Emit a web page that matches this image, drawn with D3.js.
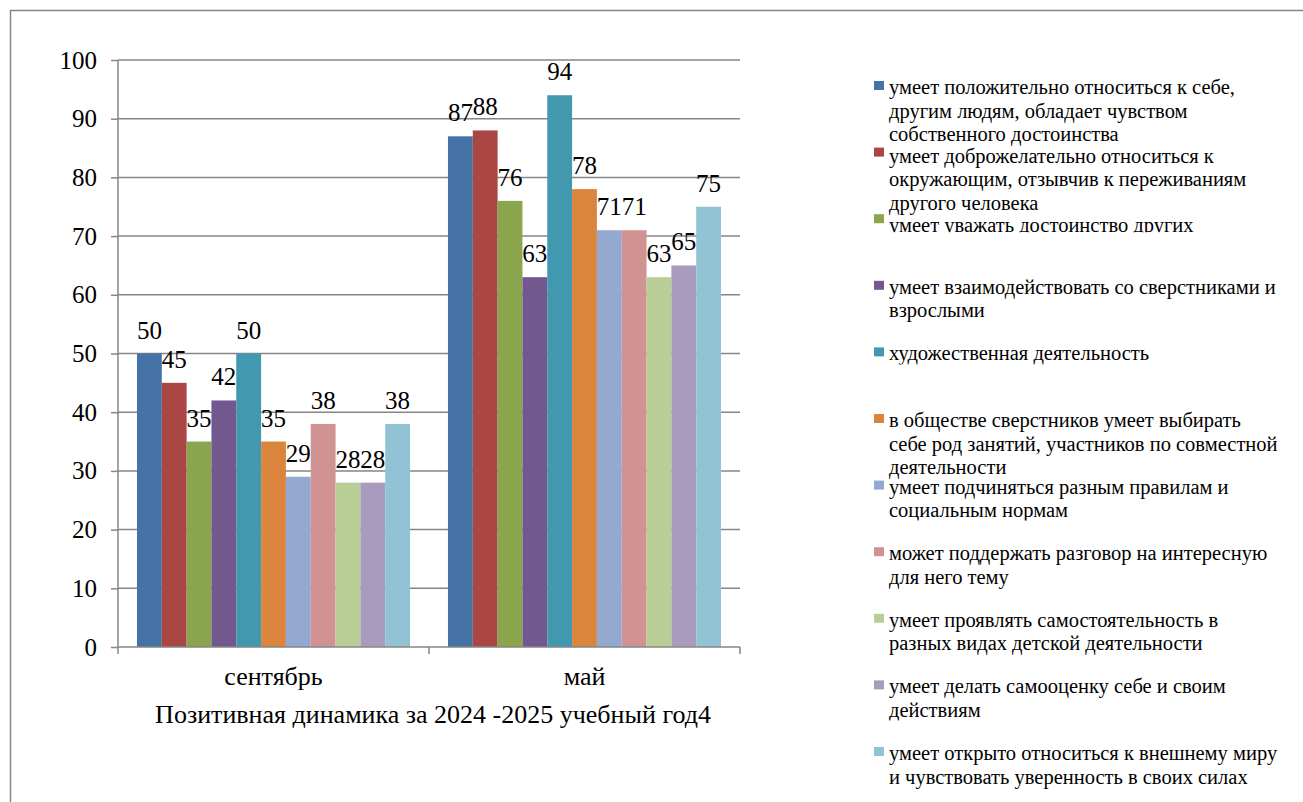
<!DOCTYPE html>
<html>
<head>
<meta charset="utf-8">
<script src="https://cdn.jsdelivr.net/npm/d3@7/dist/d3.min.js"></script>
<style>
  body { margin: 0; }
  text { font-family: "Liberation Serif", "Times New Roman", serif; }
</style>
</head>
<body>
<script>
// data
var groups = ["сентябрь", "май"];
var seriesNames = [
    "умеет положительно относиться к себе,\nдругим людям, обладает чувством\nсобственного достоинства",
    "умеет доброжелательно относиться к\nокружающим, отзывчив к переживаниям\nдругого человека",
    "умеет уважать достоинство других",
    "умеет взаимодействовать со сверстниками и\nвзрослыми",
    "художественная деятельность",
    "в обществе сверстников умеет выбирать\nсебе род занятий, участников по совместной\nдеятельности",
    "умеет подчиняться разным правилам и\nсоциальным нормам",
    "может поддержать разговор на интересную\nдля него тему",
    "умеет проявлять самостоятельность в\nразных видах детской деятельности",
    "умеет делать самооценку себе и своим\nдействиям",
    "умеет открыто относиться к внешнему миру\nи чувствовать уверенность в своих силах"
];
var septemberValues = [50, 45, 35, 42, 50, 35, 29, 38, 28, 28, 38];
var mayValues = [87, 88, 76, 63, 94, 78, 71, 71, 63, 65, 75];
var yTicks = [0, 10, 20, 30, 40, 50, 60, 70, 80, 90, 100];
var chartTitle = "Позитивная динамика за 2024 -2025 учебный год4";

var colors = ["#4572A7", "#AA4643", "#89A54E", "#71588F", "#4198AF", "#DB843D",
              "#93A9CF", "#D19392", "#B9CD96", "#A99BBD", "#91C3D5"];

var width = 1303, height = 802;
var plotLeft = 118, plotRight = 740, plotTop = 60, plotBottom = 647;
var gridColor = "#868686";
var serif = "'Liberation Serif'";

var svg = d3.select("body").append("svg")
    .attr("width", width)
    .attr("height", height)
    .style("display", "block");

// every text goes through here so the font is set the same way each time
function label(sel, size) {
    return sel.attr("font-size", size)
        .style("font-family", serif)
        .attr("fill", "#000");
}

// outer frame (runs off the right and bottom edge)
svg.append("path")
    .attr("d", "M10.5," + height + "V10.5H" + width)
    .attr("fill", "none")
    .attr("stroke", gridColor)
    .attr("stroke-width", 1.5);

var y = d3.scaleLinear().domain([0, 100]).range([plotBottom, plotTop]);

var x0 = d3.scaleBand()
    .domain(groups)
    .range([plotLeft, plotRight])
    .paddingInner(0.122)
    .paddingOuter(0.061);

var x1 = d3.scaleBand()
    .domain(d3.range(seriesNames.length))
    .range([0, x0.bandwidth()]);

// gridlines
svg.append("g").selectAll("line")
    .data(yTicks.filter(function (d) { return d > 0; }))
    .enter().append("line")
    .attr("x1", plotLeft).attr("x2", plotRight)
    .attr("y1", function (d) { return y(d); })
    .attr("y2", function (d) { return y(d); })
    .attr("stroke", gridColor).attr("stroke-width", 1.5);

// bars, one group per month
var rows = [septemberValues, mayValues];
var groupSel = svg.append("g").selectAll("g")
    .data(groups)
    .enter().append("g")
    .attr("transform", function (d) { return "translate(" + x0(d) + ",0)"; });

groupSel.selectAll("rect")
    .data(function (d, gi) { return rows[gi].map(function (v, i) { return { i: i, v: v }; }); })
    .enter().append("rect")
    .attr("x", function (d) { return x1(d.i); })
    .attr("width", x1.bandwidth())
    .attr("y", function (d) { return y(d.v); })
    .attr("height", function (d) { return plotBottom - y(d.v); })
    .attr("fill", function (d) { return colors[d.i]; });

label(groupSel.selectAll("text")
    .data(function (d, gi) { return rows[gi].map(function (v, i) { return { i: i, v: v }; }); })
    .enter().append("text"), 25)
    .attr("x", function (d) { return x1(d.i) + x1.bandwidth() / 2; })
    .attr("y", function (d) { return y(d.v) - 15; })
    .attr("text-anchor", "middle")
    .text(function (d) { return d.v; });

// y axis
var yAxis = d3.axisLeft(y).tickValues(yTicks).tickSize(7).tickPadding(14);
var yg = svg.append("g")
    .attr("transform", "translate(" + plotLeft + ",0)")
    .call(yAxis)
    .attr("font-family", null);
yg.selectAll("path, line").attr("stroke", gridColor).attr("stroke-width", 1.5);
yg.select(".domain").attr("d", "M0," + plotTop + "V" + plotBottom);
label(yg.selectAll("text"), 25);

// x axis with ticks between categories
var xg = svg.append("g").attr("transform", "translate(0," + plotBottom + ")");
xg.append("line")
    .attr("x1", plotLeft).attr("x2", plotRight)
    .attr("stroke", gridColor).attr("stroke-width", 1.5);
xg.selectAll(".tick")
    .data([plotLeft, (plotLeft + plotRight) / 2, plotRight])
    .enter().append("line")
    .attr("x1", function (d) { return d; }).attr("x2", function (d) { return d; })
    .attr("y1", 0).attr("y2", 7)
    .attr("stroke", gridColor).attr("stroke-width", 1.5);
label(xg.selectAll("text")
    .data(groups)
    .enter().append("text"), 26)
    .attr("x", function (d) { return x0(d) + x0.bandwidth() / 2; })
    .attr("y", 38)
    .attr("text-anchor", "middle")
    .text(function (d) { return d; });

// axis title
label(svg.append("text"), 26)
    .attr("x", (plotLeft + plotRight) / 2 + 4)
    .attr("y", 723)
    .attr("text-anchor", "middle")
    .text(chartTitle);

// legend: fixed slots, long entries are cut off by their slot
var legendX = 874, legendTop = 81, legendStep = 66.6, lineStep = 23.5;
var legendCut = [null, null, 18, null, 17, null, 40, null, null, 40, null]; // visible px below slot top
var legendShift = [0, 2, 5, 0, 0, 0, 0, 0, 0, 0, 0];

var defs = svg.append("defs");
var legend = svg.append("g").selectAll("g")
    .data(seriesNames)
    .enter().append("g")
    .attr("transform", function (d, i) { return "translate(" + legendX + "," + (legendTop + i * legendStep) + ")"; });

legend.each(function (d, i) {
    var g = d3.select(this);
    g.append("rect")
        .attr("width", 10).attr("height", 9)
        .attr("fill", colors[i]);
    var t = label(g.append("text"), 20.5);
    if (legendCut[i] !== null) {
        defs.append("clipPath").attr("id", "cut" + i)
            .append("rect")
            .attr("x", 0).attr("y", -40).attr("width", 440).attr("height", 40 + legendCut[i]);
        t.attr("clip-path", "url(#cut" + i + ")");
    }
    d.split("\n").forEach(function (line, k) {
        t.append("tspan")
            .attr("x", 15)
            .attr("y", 13 + legendShift[i] + k * lineStep)
            .text(line);
    });
});

// nudge the browser into matching the serif face now that the text exists
var probe = document.createElement("canvas").getContext("2d");
probe.font = "25px " + serif;
probe.measureText("умеет 0123456789");
document.fonts.check("25px " + serif);
svg.node().getBBox();
svg.selectAll("text").style("font-family", serif);
</script>
</body>
</html>
